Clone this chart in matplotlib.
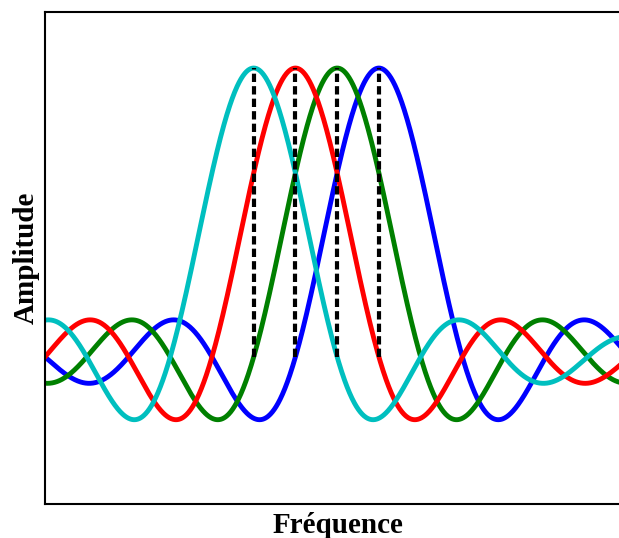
import numpy as np
import matplotlib
matplotlib.use('agg')
import matplotlib.pyplot as plt

# subcarrier centres (in units of the sinc zero spacing), drawn blue first, cyan last
centres = [1.5, 1.0, 0.5, 0.0]
colours = ['b', 'g', 'r', 'c']
peak_amp = 1.0

freq = np.linspace(-2.5, 4.52, 1200)

fig = plt.figure(figsize=(6.19, 5.38), dpi=100)
# axes runs a bit past the right edge of the picture (cropped in the original)
ax = fig.add_axes([45 / 619, 34 / 538, (631 - 45) / 619, 492 / 538])

for fc, col in zip(centres, colours):
    ax.plot(freq, peak_amp * np.sinc(freq - fc), color=col, lw=3.5)

# dashed markers at each subcarrier peak
ax.vlines(centres, 0, peak_amp, colors='k', linestyles=(0, (2, 1)), lw=3, zorder=5)

ax.set_xlim(-2.5, 4.52)
ax.set_ylim(-0.509, 1.194)
ax.set_xticks([])
ax.set_yticks([])
ax.spines['right'].set_visible(False)
for s in ['left', 'top', 'bottom']:
    ax.spines[s].set_linewidth(1.5)

font = dict(family='Liberation Serif', weight='bold', size=21)
ax.set_xlabel('Fréquence', labelpad=6, **font)
ax.set_ylabel('Amplitude', **font)

plt.savefig('out.png', dpi=100)
